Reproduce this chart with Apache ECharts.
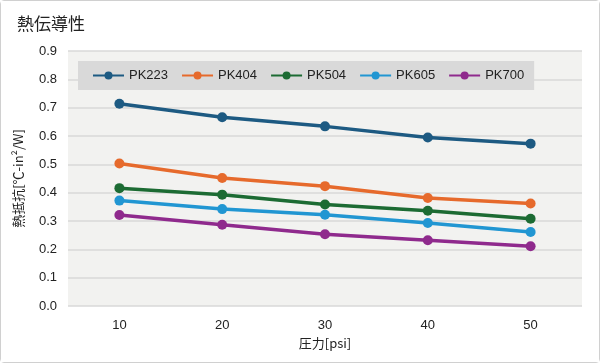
<!DOCTYPE html>
<html><head><meta charset="utf-8">
<script src="https://cdn.jsdelivr.net/npm/echarts@6/dist/echarts.min.js"></script>
<style>
html,body{margin:0;padding:0;background:#fff;}
#c{width:600px;height:363px;box-sizing:border-box;border:1px solid #d0d0d0;border-radius:4px;}
</style></head>
<body><div id="c"></div>
<script>
const categories = ['10','20','30','40','50'];
const seriesNames = ['PK223','PK404','PK504','PK605','PK700'];
const pk223 = [0.714, 0.666, 0.634, 0.595, 0.573];
const pk404 = [0.503, 0.452, 0.423, 0.381, 0.362];
const pk504 = [0.416, 0.393, 0.358, 0.336, 0.308];
const pk605 = [0.372, 0.342, 0.322, 0.293, 0.261];
const pk700 = [0.321, 0.287, 0.253, 0.232, 0.211];
const colors = ['#1d5a82', '#e66a2c', '#1c6b33', '#2196d2', '#8f2a8d'];
const dataSets = [pk223, pk404, pk504, pk605, pk700];

const font = '"Liberation Sans", Arial, "Noto Sans CJK JP", sans-serif';
const cjk = '"Noto Sans CJK JP", sans-serif';
const chart = echarts.init(document.getElementById('c'), null, {renderer:'canvas'});
chart.setOption({
  animation:false,
  backgroundColor:'#fff',
  textStyle:{fontFamily:font},
  title:{text:'熱伝導性', left:11, top:9, textStyle:{fontSize:17, fontWeight:'normal', color:'#222', fontFamily:cjk}},
  legend:{
    left:77, top:60, padding:[8,10,8,14],
    backgroundColor:'#d9d9d9',
    itemWidth:31, itemHeight:10, itemGap:13,
    textStyle:{fontSize:13, color:'#222', fontFamily:font},
    data:seriesNames
  },
  grid:{left:67, right:17, top:50, bottom:56, containLabel:false, show:true, backgroundColor:'#f2f2f0', borderWidth:0},
  xAxis:{
    type:'category', data:categories, boundaryGap:true,
    name:'圧力[psi]', nameLocation:'middle', nameGap:31,
    nameTextStyle:{fontSize:13, color:'#222', fontFamily:cjk},
    axisLine:{show:false}, axisTick:{show:false},
    axisLabel:{fontSize:13, color:'#222', margin:13}
  },
  yAxis:{
    type:'value', min:0, max:0.9, interval:0.1,
    name:'熱抵抗[℃-in²/W]', nameLocation:'middle', nameGap:43,
    nameTextStyle:{fontSize:13, color:'#222', fontFamily:cjk},
    axisLine:{show:false}, axisTick:{show:false},
    axisLabel:{fontSize:13, color:'#222', margin:11, formatter:v=>v.toFixed(1)},
    splitLine:{lineStyle:{color:'#d8d8d8', width:1.5}}
  },
  series: seriesNames.map((n,i)=>({
    name:n, type:'line', data:dataSets[i],
    symbol:'circle', symbolSize:10,
    lineStyle:{width:3.5, color:colors[i]},
    itemStyle:{color:colors[i]}
  }))
});
</script></body></html>
